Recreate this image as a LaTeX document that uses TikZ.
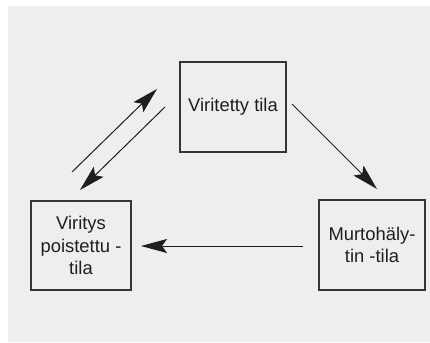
\documentclass[tikz,border=0pt]{standalone}
\usepackage{fontspec}
\setmainfont{Liberation Sans}
\usetikzlibrary{arrows.meta}
\definecolor{bg}{HTML}{EEEEEE}
\definecolor{ink}{HTML}{1E1E1E}
\begin{document}
\begin{tikzpicture}[x=1pt,y=-1pt,
  statebox/.style={draw=ink!90, line width=1.2pt, fill=bg, inner sep=0pt, align=center,
    text=ink, font=\fontsize{18.4}{22.5}\selectfont},
  conn/.style={draw=ink, line width=1pt,
    -{Stealth[length=26pt,width=14pt,inset=5pt]}}]
\useasboundingbox (0,0) rectangle (430,342);
\fill[bg] (8,6) rectangle (430,342);
\node[statebox, minimum width=106pt, minimum height=90pt] (top) at (233,107) {Viritetty tila};
\node[statebox, minimum width=100pt, minimum height=89pt] (left) at (81,245.5) {Viritys\\poistettu -\\tila};
\node[statebox, minimum width=106pt, minimum height=90pt] (right) at (372,245) {Murtohäly-\\tin -tila};
\coordinate (a1s) at (72,172);
\coordinate (a1e) at (157,89);
\coordinate (a2s) at (165,107);
\coordinate (a2e) at (80,190);
\coordinate (a3s) at (292,104);
\coordinate (a3e) at (377,189);
\coordinate (a4s) at (303,246);
\coordinate (a4e) at (141,246);
\draw[conn] (a1s) -- (a1e);
\draw[conn] (a2s) -- (a2e);
\draw[conn] (a3s) -- (a3e);
\draw[conn] (a4s) -- (a4e);
\end{tikzpicture}
\end{document}
